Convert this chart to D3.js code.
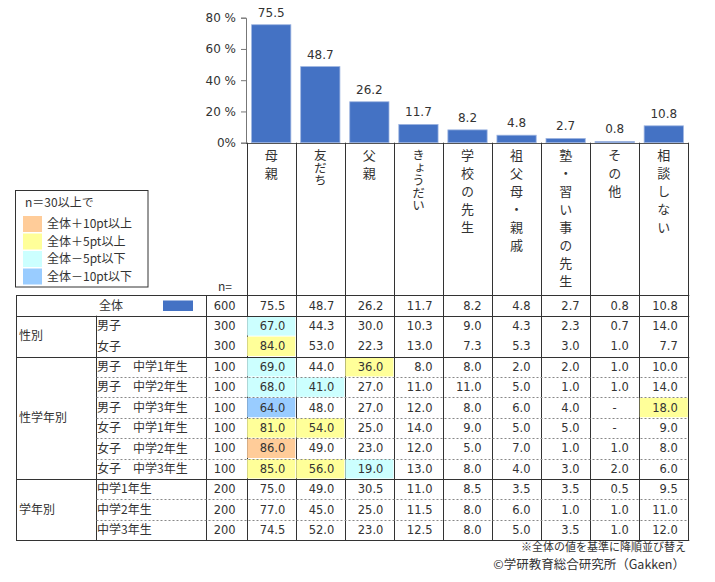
<!DOCTYPE html>
<html>
<head>
<meta charset="utf-8">
<script src="https://cdn.jsdelivr.net/npm/d3@7"></script>
<style>
  body { margin: 0; background: #fff; }
  svg { display: block; }
  text { fill: #333; }
  .num { font-family: "DejaVu Sans", sans-serif; }
  .jp { font-family: "Noto Sans CJK JP", sans-serif; }
</style>
</head>
<body>
<svg id="chart" width="715" height="582"></svg>
<script>
const categories = ["母親", "友だち", "父親", "きょうだい", "学校の先生", "祖父母・親戚", "塾・習い事の先生", "その他", "相談しない"];
const totalValues = [75.5, 48.7, 26.2, 11.7, 8.2, 4.8, 2.7, 0.8, 10.8];
const totalN = 600;
const yTicks = [0, 20, 40, 60, 80];
const yTickLabels = ["0%", "20 %", "40 %", "60 %", "80 %"];

const groupNames = ["性別", "性学年別", "学年別"];
const rowGroups = ["性別", "性別", "性学年別", "性学年別", "性学年別", "性学年別", "性学年別", "性学年別", "学年別", "学年別", "学年別"];
const rowLabels = ["男子", "女子", "男子　中学1年生", "男子　中学2年生", "男子　中学3年生", "女子　中学1年生", "女子　中学2年生", "女子　中学3年生", "中学1年生", "中学2年生", "中学3年生"];
const rowN = [300, 300, 100, 100, 100, 100, 100, 100, 200, 200, 200];
const rowValues = [
  [67.0, 44.3, 30.0, 10.3, 9.0, 4.3, 2.3, 0.7, 14.0],
  [84.0, 53.0, 22.3, 13.0, 7.3, 5.3, 3.0, 1.0, 7.7],
  [69.0, 44.0, 36.0, 8.0, 8.0, 2.0, 2.0, 1.0, 10.0],
  [68.0, 41.0, 27.0, 11.0, 11.0, 5.0, 1.0, 1.0, 14.0],
  [64.0, 48.0, 27.0, 12.0, 8.0, 6.0, 4.0, null, 18.0],
  [81.0, 54.0, 25.0, 14.0, 9.0, 5.0, 5.0, null, 9.0],
  [86.0, 49.0, 23.0, 12.0, 5.0, 7.0, 1.0, 1.0, 8.0],
  [85.0, 56.0, 19.0, 13.0, 8.0, 4.0, 3.0, 2.0, 6.0],
  [75.0, 49.0, 30.5, 11.0, 8.5, 3.5, 3.5, 0.5, 9.5],
  [77.0, 45.0, 25.0, 11.5, 8.0, 6.0, 1.0, 1.0, 11.0],
  [74.5, 52.0, 23.0, 12.5, 8.0, 5.0, 3.5, 1.0, 12.0]
];

const legendLabels = ["全体＋10pt以上", "全体＋5pt以上", "全体－5pt以下", "全体－10pt以下"];
const legendColors = ["#FFCC99", "#FFFF99", "#CCFFFF", "#99CCFF"];

// labels typed without extra character spacing in the original
const tightLabels = ["友だち", "きょうだい"];

const svg = d3.select("#chart");
const barColor = "#4472C4";
const lineColor = "#333";

const colLeft = 246.7, colRight = 688.3;
const x = d3.scaleBand().domain(categories).range([colLeft, colRight]).paddingInner(0.2).paddingOuter(0.1);
const step = x.step();
const y = d3.scaleLinear().domain([0, 80]).range([142.7, 17.7]);

const tableTop = 295.3, rowH = 20.4;
const tableLeft = 16, groupRight = 95.5, nLeft = 205.7;
const rowsTotal = 1 + rowLabels.length;
const tableBottom = tableTop + rowsTotal * rowH;
const rowTop = i => tableTop + i * rowH;
const px = v => Math.round(v) + 0.5;

function highlight(v, base) {
  if (v == null) return null;
  const d = v - base;
  if (d >= 10) return legendColors[0];
  if (d >= 5) return legendColors[1];
  if (d <= -10) return legendColors[3];
  if (d <= -5) return legendColors[2];
  return null;
}

// bars
svg.append("g").selectAll("rect")
  .data(categories)
  .enter().append("rect")
  .attr("x", d => x(d))
  .attr("width", x.bandwidth())
  .attr("y", (d, i) => y(totalValues[i]))
  .attr("height", (d, i) => y(0) - y(totalValues[i]))
  .attr("fill", barColor)
  .attr("stroke", "#9db4e0")
  .attr("stroke-width", 0.8);

svg.append("g").selectAll("text")
  .data(categories)
  .enter().append("text")
  .attr("class", "num")
  .attr("x", d => x(d) + x.bandwidth() / 2)
  .attr("y", (d, i) => y(totalValues[i]) - 8)
  .attr("text-anchor", "middle")
  .style("font-size", "12px")
  .text((d, i) => totalValues[i].toFixed(1));

// y axis
const yAxis = d3.axisLeft(y).tickValues(yTicks).tickSize(5).tickFormat((d, i) => yTickLabels[i]);
const yg = svg.append("g").attr("transform", "translate(246,0)").call(yAxis);
yg.select(".domain").attr("stroke", "#777");
yg.selectAll(".tick line").attr("stroke", "#777");
yg.selectAll(".tick text").attr("class", "num").attr("x", -10).style("font-size", "12px").attr("fill", "#333");

// baseline
svg.append("line")
  .attr("x1", 246).attr("x2", colRight)
  .attr("y1", px(y(0))).attr("y2", px(y(0)))
  .attr("stroke", "#555");

// column lines
svg.append("g").selectAll("line")
  .data(d3.range(categories.length + 1))
  .enter().append("line")
  .attr("x1", i => px(colLeft + i * step))
  .attr("x2", i => px(colLeft + i * step))
  .attr("y1", y(0))
  .attr("y2", tableBottom)
  .attr("stroke", lineColor);

// vertical category labels
svg.append("g").selectAll("text")
  .data(categories)
  .enter().append("text")
  .attr("class", "jp")
  .attr("x", d => x(d) + x.bandwidth() / 2)
  .attr("y", 149)
  .style("writing-mode", "vertical-rl")
  .style("text-orientation", "upright")
  .style("font-size", d => tightLabels.includes(d) ? "12.5px" : "13px")
  .style("letter-spacing", d => tightLabels.includes(d) ? "0px" : "5px")
  .text(d => d);

// legend
const lg = svg.append("g");
lg.append("rect").attr("x", 15.5).attr("y", 190.5).attr("width", 132.5).attr("height", 96.5)
  .attr("fill", "#fff").attr("stroke", lineColor);
lg.append("text").attr("class", "jp").attr("x", 25).attr("y", 203).attr("dy", "0.35em")
  .style("font-size", "12px").text("n＝30以上で");
legendLabels.forEach((lab, i) => {
  const yy = 216 + i * 17.5;
  lg.append("rect").attr("x", 23).attr("y", yy).attr("width", 19).attr("height", 16).attr("fill", legendColors[i]);
  lg.append("text").attr("class", "jp").attr("x", 47).attr("y", yy + 8).attr("dy", "0.35em")
    .style("font-size", "12px").text(lab);
});

svg.append("text").attr("class", "jp").attr("x", 218).attr("y", 287).attr("dy", "0.35em")
  .style("font-size", "12px").text("n=");

// table cells highlight
const cells = svg.append("g");
rowValues.forEach((vals, r) => {
  vals.forEach((v, c) => {
    const col = highlight(v, totalValues[c]);
    if (col) {
      cells.append("rect")
        .attr("x", colLeft + c * step + 0.5)
        .attr("y", rowTop(r + 1) + 0.5)
        .attr("width", step - 1)
        .attr("height", rowH - 1)
        .attr("fill", col);
    }
  });
});

// table lines
const tl = svg.append("g").attr("stroke", lineColor);
// horizontal solid lines: top, after total, group boundaries, bottom
const solidRows = [0, 1];
groupNames.forEach(g => { solidRows.push(rowGroups.lastIndexOf(g) + 2); });
solidRows.forEach(r => {
  tl.append("line").attr("x1", tableLeft).attr("x2", colRight + 1)
    .attr("y1", px(rowTop(r))).attr("y2", px(rowTop(r)));
});
// dashed lines within groups (not in 性別)
rowLabels.forEach((lab, i) => {
  if (i === 0) return;
  if (rowGroups[i] === rowGroups[i - 1] && rowGroups[i] !== "性別") {
    svg.append("line").attr("x1", groupRight + 1).attr("x2", colRight)
      .attr("y1", px(rowTop(i + 1))).attr("y2", px(rowTop(i + 1)))
      .attr("stroke", "#888").attr("stroke-dasharray", "2,2");
  }
});
[[tableLeft, tableTop], [groupRight, rowTop(1)], [nLeft, tableTop]].forEach(([xx, y0]) => {
  tl.append("line").attr("x1", px(xx)).attr("x2", px(xx)).attr("y1", y0).attr("y2", tableBottom);
});

// total row
const tcy = rowTop(0) + rowH / 2;
svg.append("text").attr("class", "jp").attr("x", 99).attr("y", tcy).attr("dy", "0.35em")
  .style("font-size", "12px").text("全体");
svg.append("rect").attr("x", 163).attr("y", tcy - 5).attr("width", 30).attr("height", 10.5).attr("fill", barColor);
svg.append("text").attr("class", "num").attr("x", nLeft + 30).attr("y", tcy).attr("dy", "0.35em")
  .attr("text-anchor", "end").style("font-size", "11.5px").text(totalN);
totalValues.forEach((v, c) => {
  svg.append("text").attr("class", "num").attr("x", colLeft + (c + 1) * step - 10.5).attr("y", tcy).attr("dy", "0.35em")
    .attr("text-anchor", "end").style("font-size", "11.5px").text(v.toFixed(1));
});

// group labels
groupNames.forEach(g => {
  const first = rowGroups.indexOf(g), last = rowGroups.lastIndexOf(g);
  const cy = (rowTop(first + 1) + rowTop(last + 2)) / 2;
  svg.append("text").attr("class", "jp").attr("x", 19).attr("y", cy).attr("dy", "0.35em")
    .style("font-size", "12px").text(g);
});

// data rows
rowLabels.forEach((lab, r) => {
  const cy = rowTop(r + 1) + rowH / 2;
  svg.append("text").attr("class", "jp").attr("x", 97).attr("y", cy).attr("dy", "0.35em")
    .style("font-size", "12px").text(lab);
  svg.append("text").attr("class", "num").attr("x", nLeft + 30).attr("y", cy).attr("dy", "0.35em")
    .attr("text-anchor", "end").style("font-size", "11.5px").text(rowN[r]);
  rowValues[r].forEach((v, c) => {
    const t = svg.append("text").attr("class", "num").attr("y", cy).attr("dy", "0.35em").style("font-size", "11.5px");
    if (v == null) {
      t.attr("x", colLeft + c * step + step / 2).attr("text-anchor", "middle").text("-");
    } else {
      t.attr("x", colLeft + (c + 1) * step - 10.5).attr("text-anchor", "end").text(v.toFixed(1));
    }
  });
});

// footnotes
svg.append("text").attr("class", "jp").attr("x", 686).attr("y", 547).attr("dy", "0.35em")
  .attr("text-anchor", "end").style("font-size", "11px").text("※全体の値を基準に降順並び替え");
svg.append("text").attr("class", "jp").attr("x", 685).attr("y", 565).attr("dy", "0.35em")
  .attr("text-anchor", "end").style("font-size", "12.5px").text("©学研教育総合研究所（Gakken）");
</script>
</body>
</html>
